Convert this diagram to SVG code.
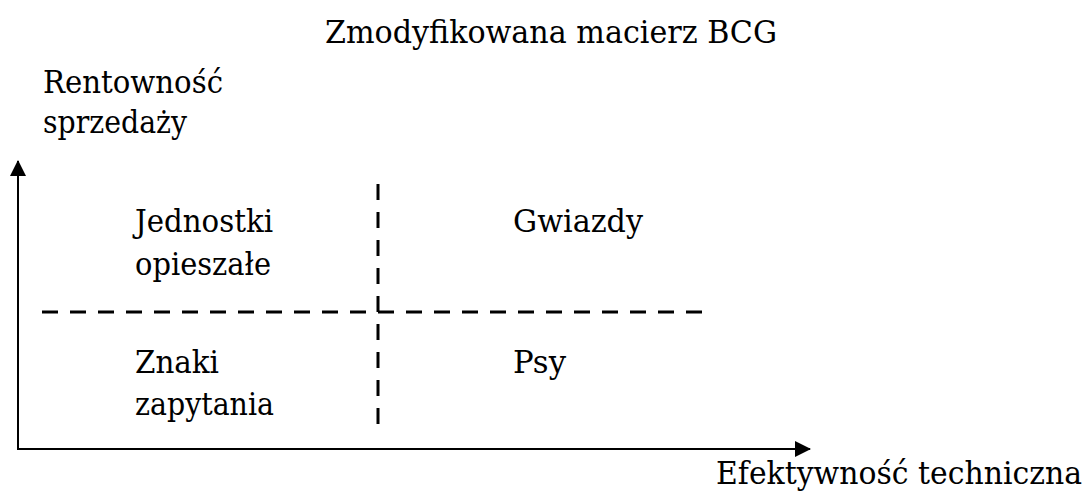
<svg xmlns="http://www.w3.org/2000/svg" width="1090" height="497" viewBox="0 0 1090 497">
<style>
text{font-family:'DejaVu Serif', serif;font-size:32px;fill:#000}
.axis{stroke:#000;stroke-width:2;fill:none}
.dash{stroke:#000;stroke-width:3;fill:none;stroke-dasharray:16 12}
</style>
<defs>
<marker id="arr" markerWidth="16" markerHeight="16" refX="15" refY="8" orient="auto" markerUnits="userSpaceOnUse">
<path d="M0,0 L16,8 L0,16 Z" fill="#000"/>
</marker>
</defs>
<rect width="1090" height="497" fill="#fff"/>
<text id="title" x="325" y="43" textLength="452" lengthAdjust="spacingAndGlyphs">Zmodyfikowana macierz BCG</text>
<g id="connectors">
<line class="axis" x1="18" y1="449" x2="18" y2="161" marker-end="url(#arr)"/>
<line class="axis" x1="17" y1="449" x2="810" y2="449" marker-end="url(#arr)"/>
<line class="dash" x1="378" y1="184" x2="378" y2="424"/>
<line class="dash" x1="42" y1="312" x2="702" y2="312"/>
</g>
<g id="y-axis-label"><text x="43" y="93" textLength="180" lengthAdjust="spacingAndGlyphs">Rentowność</text><text x="43" y="133" textLength="144" lengthAdjust="spacingAndGlyphs">sprzedaży</text></g>
<g id="x-axis-label"><text x="716" y="484" textLength="366" lengthAdjust="spacingAndGlyphs">Efektywność techniczna</text></g>
<g id="jednostki"><text x="135" y="232" textLength="138" lengthAdjust="spacingAndGlyphs">Jednostki</text><text x="135" y="275" textLength="136" lengthAdjust="spacingAndGlyphs">opieszałe</text></g>
<g id="gwiazdy"><text x="513" y="232" textLength="130" lengthAdjust="spacingAndGlyphs">Gwiazdy</text></g>
<g id="znaki"><text x="135" y="373" textLength="84" lengthAdjust="spacingAndGlyphs">Znaki</text><text x="135" y="415" textLength="139" lengthAdjust="spacingAndGlyphs">zapytania</text></g>
<g id="psy"><text x="513" y="373" textLength="53" lengthAdjust="spacingAndGlyphs">Psy</text></g>
</svg>
